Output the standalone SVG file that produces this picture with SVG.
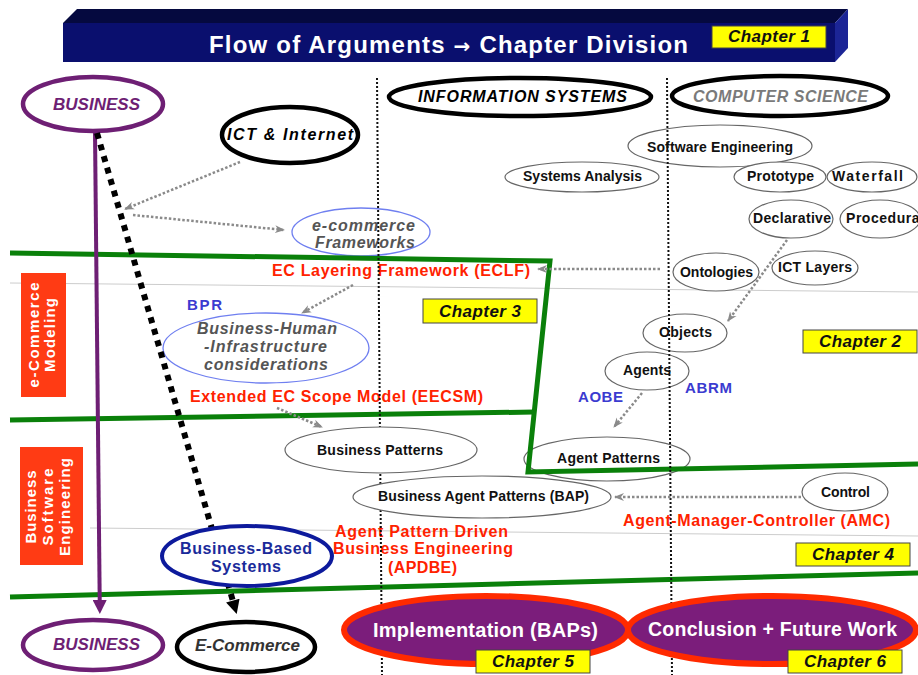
<svg xmlns="http://www.w3.org/2000/svg" width="918" height="675" viewBox="0 0 918 675">
  <style>
    text { font-family: "Liberation Sans", Arial, sans-serif; font-weight: bold; }
    .it { font-style: italic; }
    .thin { fill: #ffffff; stroke: #666666; stroke-width: 1.2; }
    .blue { fill: #ffffff; stroke: #6f7ff0; stroke-width: 1.3; }
    .heavy { fill: #ffffff; stroke: #000000; stroke-width: 4.5; }
    .purple { fill: #ffffff; stroke: #6e1f74; stroke-width: 4.5; }
    .final { fill: #7b1d7b; stroke: #ff2a00; stroke-width: 6; }
    .lbl { font-size: 14px; fill: #111111; }
    .red { font-size: 16px; fill: #ff2200; }
    .bluetxt { font-size: 15px; fill: #3b3bd0; }
    .chap rect { fill: #ffff00; stroke: #444444; stroke-width: 1; }
    .chap text { font-size: 17px; font-style: italic; fill: #111111; text-anchor: middle; }
    .side rect { fill: #ff3b14; }
    .side text { font-size: 15px; fill: #ffffff; text-anchor: middle; }
    .rule { stroke: #cccccc; stroke-width: 1; fill: none; }
    .green { stroke: #0a800a; stroke-width: 5; fill: none; stroke-linejoin: miter; }
    .divider { stroke: #111111; stroke-width: 2; stroke-dasharray: 2 2; fill: none; }
    .link { stroke: #8a8a8a; stroke-width: 2.5; stroke-dasharray: 2.5 2; fill: none; marker-end: url(#grey-head); }
  </style>
  <defs>
    <marker id="grey-head" viewBox="0 0 10 10" refX="9" refY="5" markerWidth="10" markerHeight="10" markerUnits="userSpaceOnUse" orient="auto">
      <path d="M0,1 L10,5 L0,9 L3,5 z" fill="#8a8a8a"/>
    </marker>
    <marker id="purple-head" viewBox="0 0 10 10" refX="0" refY="5" markerWidth="15" markerHeight="14" markerUnits="userSpaceOnUse" orient="auto">
      <path d="M0,0 L10,5 L0,10 z" fill="#6e1f74"/>
    </marker>
    <marker id="black-head" viewBox="0 0 10 10" refX="0" refY="5" markerWidth="15" markerHeight="14" markerUnits="userSpaceOnUse" orient="auto">
      <path d="M0,0 L10,5 L0,10 z" fill="#000000"/>
    </marker>
  </defs>

  <rect width="918" height="675" fill="#ffffff"/>

  <!-- title banner (3D bar) -->
  <g id="title">
    <polygon points="63,23 77,9 848,9 835,23" fill="#05093f"/>
    <polygon points="835,23 848,9 848,48 835,62" fill="#1c2596"/>
    <rect x="63" y="23" width="772" height="39" fill="#0a0f6e"/>
    <text x="209" y="53" font-size="24" fill="#ffffff" textLength="479" lengthAdjust="spacing">Flow of Arguments <tspan font-family="'DejaVu Sans', sans-serif" font-size="20">→</tspan> Chapter Division</text>
    <g class="chap">
      <rect x="712" y="26" width="114" height="22"/>
      <text x="769" y="42" textLength="82" lengthAdjust="spacing">Chapter 1</text>
    </g>
  </g>

  <!-- thin horizontal rules -->
  <g id="rules">
    <line class="rule" x1="10" y1="283" x2="918" y2="292"/>
    <line class="rule" x1="90" y1="528" x2="918" y2="536"/>
  </g>

  <!-- upper nodes -->
  <g id="business-top">
    <ellipse class="purple" cx="93" cy="104" rx="70" ry="27"/>
    <text class="it" x="53" y="110" font-size="17" fill="#6e1f74" textLength="87" lengthAdjust="spacing">BUSINESS</text>
  </g>
  <g id="ict-internet">
    <ellipse class="heavy" cx="290" cy="135" rx="68" ry="28"/>
    <text class="it" x="227" y="140" font-size="16" fill="#000000" textLength="126" lengthAdjust="spacing">ICT &amp; Internet</text>
  </g>
  <g id="information-systems">
    <ellipse class="heavy" cx="520" cy="97" rx="131" ry="19" stroke-width="5"/>
    <text class="it" x="418" y="102" font-size="16" fill="#000000" textLength="209" lengthAdjust="spacing">INFORMATION SYSTEMS</text>
  </g>
  <g id="computer-science">
    <ellipse class="heavy" cx="780" cy="96" rx="108" ry="20" stroke-width="5"/>
    <text class="it" x="693" y="102" font-size="16" fill="#7a7a7a" textLength="175" lengthAdjust="spacing">COMPUTER SCIENCE</text>
  </g>
  <g id="ecommerce-frameworks">
    <ellipse class="blue" cx="361" cy="232" rx="69" ry="24"/>
    <text class="it" x="312" y="231" font-size="16" fill="#555555" textLength="103" lengthAdjust="spacing">e-commerce</text>
    <text class="it" x="315" y="248" font-size="16" fill="#555555" textLength="100" lengthAdjust="spacing">Frameworks</text>
  </g>
  <g id="software-engineering">
    <ellipse class="thin" cx="720" cy="146" rx="92" ry="21"/>
    <text class="lbl" x="647" y="152" textLength="146" lengthAdjust="spacing">Software Engineering</text>
  </g>
  <g id="systems-analysis">
    <ellipse class="thin" cx="582" cy="177" rx="77" ry="15"/>
    <text class="lbl" x="523" y="181" textLength="119" lengthAdjust="spacing">Systems Analysis</text>
  </g>
  <g id="prototype">
    <ellipse class="thin" cx="780" cy="177" rx="46" ry="15"/>
    <text class="lbl" x="747" y="181" textLength="67" lengthAdjust="spacing">Prototype</text>
  </g>
  <g id="waterfall">
    <ellipse class="thin" cx="872" cy="177" rx="45" ry="15"/>
    <text class="lbl" x="832" y="181" font-size="15" textLength="71" lengthAdjust="spacing">Waterfall</text>
  </g>
  <g id="declarative">
    <ellipse class="thin" cx="791" cy="219" rx="42" ry="19"/>
    <text class="lbl" x="753" y="223" textLength="78" lengthAdjust="spacing">Declarative</text>
  </g>
  <g id="procedural">
    <ellipse class="thin" cx="880" cy="219" rx="40" ry="19"/>
    <text class="lbl" x="846" y="223" textLength="78" lengthAdjust="spacing">Procedural</text>
  </g>
  <g id="ontologies">
    <ellipse class="thin" cx="716" cy="272" rx="43" ry="19"/>
    <text class="lbl" x="680" y="277" textLength="73" lengthAdjust="spacing">Ontologies</text>
  </g>
  <g id="ict-layers">
    <ellipse class="thin" cx="815" cy="268" rx="43" ry="17"/>
    <text class="lbl" x="778" y="272" textLength="74" lengthAdjust="spacing">ICT Layers</text>
  </g>
  <g id="objects">
    <ellipse class="thin" cx="685" cy="333" rx="42" ry="19"/>
    <text class="lbl" x="659" y="337" textLength="53" lengthAdjust="spacing">Objects</text>
  </g>
  <g id="agents">
    <ellipse class="thin" cx="647" cy="371" rx="42" ry="19"/>
    <text class="lbl" x="623" y="375" textLength="48" lengthAdjust="spacing">Agents</text>
  </g>
  <g id="business-human">
    <ellipse class="blue" cx="266" cy="348" rx="103" ry="35"/>
    <text class="it" x="197" y="334" font-size="16" fill="#555555" textLength="140" lengthAdjust="spacing">Business-Human</text>
    <text class="it" x="204" y="352" font-size="16" fill="#555555" textLength="123" lengthAdjust="spacing">-Infrastructure</text>
    <text class="it" x="204" y="370" font-size="16" fill="#555555" textLength="124" lengthAdjust="spacing">considerations</text>
  </g>
  <g id="agent-patterns">
    <ellipse class="thin" cx="607" cy="459" rx="83" ry="22"/>
    <text class="lbl" x="557" y="463" textLength="103" lengthAdjust="spacing">Agent Patterns</text>
  </g>
  <g id="control">
    <ellipse class="thin" cx="845" cy="492" rx="43" ry="19"/>
    <text class="lbl" x="821" y="497" textLength="49" lengthAdjust="spacing">Control</text>
  </g>

  <!-- chapter boundaries -->
  <g id="chapter-bounds">
    <polyline class="green" points="10,253 550,261 528,472 918,464"/>
    <line class="green" x1="10" y1="420" x2="534" y2="412"/>
    <line class="green" x1="10" y1="597" x2="918" y2="573"/>
  </g>

  <!-- red and blue annotations -->
  <g id="annotations">
    <text class="red" x="272" y="276" font-size="17" textLength="258" lengthAdjust="spacing">EC Layering Framework (ECLF)</text>
    <text class="red" x="190" y="402" font-size="17" textLength="293" lengthAdjust="spacing">Extended EC Scope Model (EECSM)</text>
    <text class="red" x="623" y="526" textLength="267" lengthAdjust="spacing">Agent-Manager-Controller (AMC)</text>
    <text class="red" x="335" y="537" textLength="173" lengthAdjust="spacing">Agent Pattern Driven</text>
    <text class="red" x="333" y="554" textLength="180" lengthAdjust="spacing">Business Engineering</text>
    <text class="red" x="388" y="573" textLength="69" lengthAdjust="spacing">(APDBE)</text>
    <text class="bluetxt" x="187" y="310" textLength="35" lengthAdjust="spacing">BPR</text>
    <text class="bluetxt" x="578" y="402" textLength="45" lengthAdjust="spacing">AOBE</text>
    <text class="bluetxt" x="685" y="393" textLength="47" lengthAdjust="spacing">ABRM</text>
  </g>

  <!-- column dividers -->
  <g id="dividers">
    <line class="divider" x1="377" y1="78" x2="382" y2="675"/>
    <line class="divider" x1="667" y1="78" x2="672" y2="675"/>
  </g>

  <!-- connectors -->
  <g id="connectors">
    <line class="link" x1="240" y1="162" x2="125" y2="209"/>
    <line class="link" x1="133" y1="215" x2="284" y2="230"/>
    <line class="link" x1="660" y1="269" x2="538" y2="269"/>
    <line class="link" x1="353" y1="285" x2="302" y2="313"/>
    <line class="link" x1="277" y1="408" x2="322" y2="427"/>
    <line class="link" x1="787" y1="240" x2="728" y2="321"/>
    <line class="link" x1="642" y1="393" x2="614" y2="427"/>
    <line class="link" x1="801" y1="497" x2="615" y2="497"/>
    <line x1="95" y1="132" x2="99.7" y2="600" stroke="#6e1f74" stroke-width="4" marker-end="url(#purple-head)"/>
    <line x1="97" y1="133" x2="232.8" y2="600.6" stroke="#000000" stroke-width="6" stroke-dasharray="6 6" marker-end="url(#black-head)"/>
  </g>

  <!-- lower nodes -->
  <g id="business-patterns">
    <ellipse class="thin" cx="381" cy="450" rx="96" ry="23"/>
    <text class="lbl" x="317" y="455" textLength="126" lengthAdjust="spacing">Business Patterns</text>
  </g>
  <g id="business-agent-patterns">
    <ellipse class="thin" cx="482" cy="497" rx="129" ry="21"/>
    <text class="lbl" x="378" y="501" textLength="211" lengthAdjust="spacing">Business Agent Patterns (BAP)</text>
  </g>
  <g id="business-based-systems">
    <ellipse cx="247" cy="556" rx="85" ry="30" fill="#ffffff" stroke="#0d1a9c" stroke-width="4"/>
    <text x="180" y="554" font-size="16" fill="#1a2a9a" textLength="132" lengthAdjust="spacing">Business-Based</text>
    <text x="211" y="572" font-size="16" fill="#1a2a9a" textLength="70" lengthAdjust="spacing">Systems</text>
  </g>
  <g id="business-bottom">
    <ellipse class="purple" cx="93" cy="645" rx="70" ry="25"/>
    <text class="it" x="53" y="650" font-size="17" fill="#6e1f74" textLength="87" lengthAdjust="spacing">BUSINESS</text>
  </g>
  <g id="e-commerce">
    <ellipse class="heavy" cx="246" cy="647" rx="69" ry="25"/>
    <text class="it" x="195" y="651" font-size="17" fill="#333333" textLength="105" lengthAdjust="spacing">E-Commerce</text>
  </g>
  <g id="implementation">
    <ellipse class="final" cx="486" cy="630" rx="142" ry="34"/>
    <text x="373" y="637" font-size="20" fill="#ffffff" textLength="225" lengthAdjust="spacing">Implementation (BAPs)</text>
  </g>
  <g id="conclusion">
    <ellipse class="final" cx="772" cy="630" rx="144" ry="34"/>
    <text x="648" y="636" font-size="19.5" fill="#ffffff" textLength="249" lengthAdjust="spacing">Conclusion + Future Work</text>
  </g>

  <!-- chapter tags -->
  <g id="chapters" class="chap">
    <rect x="423" y="299" width="114" height="24"/>
    <text x="480" y="317" textLength="82" lengthAdjust="spacing">Chapter 3</text>
    <rect x="803" y="330" width="114" height="23"/>
    <text x="860" y="347" textLength="82" lengthAdjust="spacing">Chapter 2</text>
    <rect x="796" y="543" width="114" height="23"/>
    <text x="853" y="560" textLength="82" lengthAdjust="spacing">Chapter 4</text>
    <rect x="476" y="650" width="114" height="23"/>
    <text x="533" y="667" textLength="82" lengthAdjust="spacing">Chapter 5</text>
    <rect x="788" y="650" width="114" height="23"/>
    <text x="845" y="667" textLength="82" lengthAdjust="spacing">Chapter 6</text>
  </g>

  <!-- section tabs on the left -->
  <g id="section-ecommerce-modeling" class="side">
    <rect x="21" y="273" width="45" height="124"/>
    <text transform="rotate(-90)" x="-335" y="39" textLength="105" lengthAdjust="spacing">e-Commerce</text>
    <text transform="rotate(-90)" x="-335" y="55" textLength="74" lengthAdjust="spacing">Modeling</text>
  </g>
  <g id="section-business-software" class="side">
    <rect x="20" y="447" width="63" height="118"/>
    <text transform="rotate(-90)" x="-507" y="36" textLength="73" lengthAdjust="spacing">Business</text>
    <text transform="rotate(-90)" x="-507" y="53" textLength="77" lengthAdjust="spacing">Software</text>
    <text transform="rotate(-90)" x="-507" y="70" textLength="98" lengthAdjust="spacing">Engineering</text>
  </g>
</svg>
